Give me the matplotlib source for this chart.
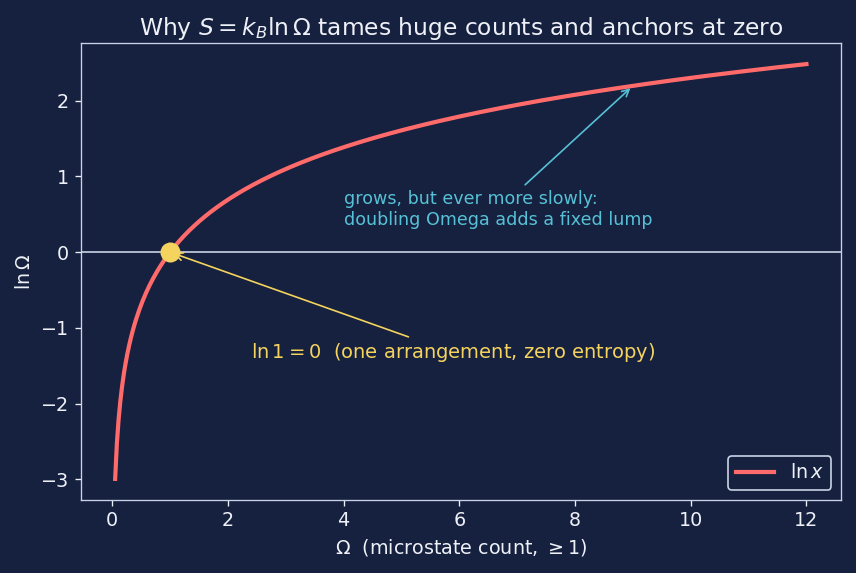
import matplotlib.pyplot as plt
import numpy as np

# domain of the curve (Omega values)
omega_min = 0.05
omega_max = 12.0
n_points = 400

# annotation anchors
anchor_point = (1.0, 0.0)
slow_point = (9.0, np.log(9.0))

BG = "#16203f"
FG = "#eef1f7"
SPINE = "#c9d3e6"
RED = "#ff6b6b"
YELLOW = "#f4d35e"
CYAN = "#56c1d6"

plt.rcParams["font.family"] = "DejaVu Sans"

omega = np.linspace(omega_min, omega_max, n_points)
ln_omega = np.log(omega)

fig, ax = plt.subplots(figsize=(856 / 120, 573 / 120), dpi=120)
fig.patch.set_facecolor(BG)
ax.set_facecolor(BG)

ax.plot(omega, ln_omega, color=RED, lw=2.5, label=r"$\ln x$", zorder=3)
ax.axhline(0, color=SPINE, lw=1.0, zorder=2)
ax.plot(*anchor_point, "o", color=YELLOW, ms=11, zorder=4)

ax.annotate(r"$\ln 1 = 0$  (one arrangement, zero entropy)",
            xy=anchor_point, xytext=(2.4, -1.33),
            color=YELLOW, fontsize=11.7, ha="left", va="center",
            arrowprops=dict(arrowstyle="->", color=YELLOW, lw=1.0))

ax.annotate("grows, but ever more slowly:\ndoubling Omega adds a fixed lump",
            xy=slow_point, xytext=(4.0, 0.56),
            color=CYAN, fontsize=10.5, ha="left", va="center",
            arrowprops=dict(arrowstyle="->", color=CYAN, lw=1.0))

ax.set_title(r"Why $S = k_B \ln\Omega$ tames huge counts and anchors at zero",
             color=FG, fontsize=14, pad=5)
ax.set_xlabel(r"$\Omega$  (microstate count, $\geq 1$)", color=FG, fontsize=11.5)
ax.set_ylabel(r"$\ln\Omega$", color=FG, fontsize=11.5)

ax.tick_params(colors=FG, labelsize=11.5)
for s in ax.spines.values():
    s.set_color(SPINE)

leg = ax.legend(loc="lower right", facecolor=BG, edgecolor=SPINE,
                fontsize=11.5, framealpha=1)
for t in leg.get_texts():
    t.set_color(FG)

fig.tight_layout(pad=0.9)
fig.savefig("out.png", dpi=120, facecolor=BG)
